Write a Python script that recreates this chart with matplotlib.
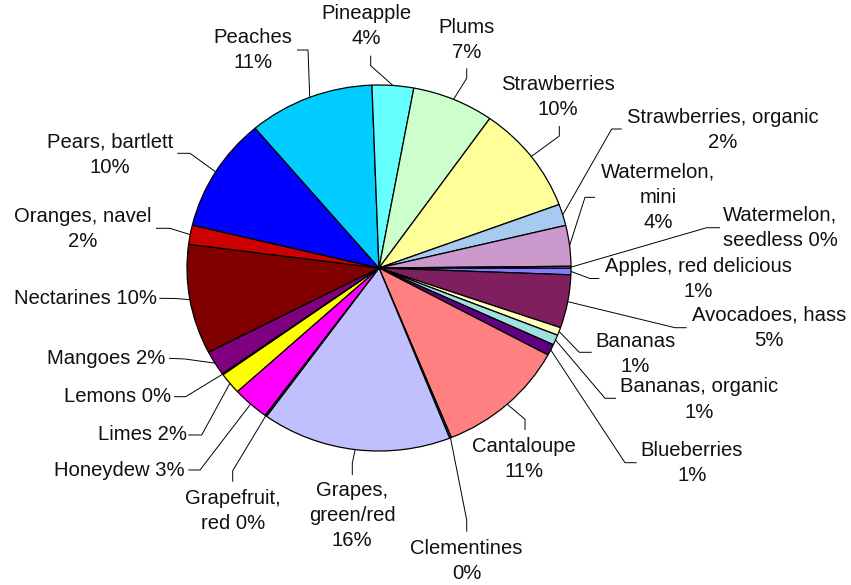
import matplotlib
matplotlib.use("Agg")
import matplotlib.pyplot as plt
import numpy as np

plt.rcParams['font.family'] = ['Liberation Sans', 'DejaVu Sans']

# ---- data (clockwise from 3 o'clock) ----
categories = [
    "Apples, red delicious", "Avocadoes, hass", "Bananas", "Bananas, organic",
    "Blueberries", "Cantaloupe", "Clementines", "Grapes,\ngreen/red",
    "Grapefruit,\nred", "Honeydew", "Limes", "Lemons", "Mangoes", "Nectarines",
    "Oranges, navel", "Pears, bartlett", "Peaches", "Pineapple", "Plums",
    "Strawberries", "Strawberries, organic", "Watermelon,\nmini",
    "Watermelon,\nseedless",
]
values = [0.6, 4.7, 0.7, 0.9, 1.0, 11.0, 0.15, 16.0, 0.15, 3.1, 1.9, 0.1, 2.2,
          9.7, 1.7, 10.1, 10.6, 3.5, 6.9, 9.6, 1.9, 3.6, 0.15]
pct_labels = [1, 5, 1, 1, 1, 11, 0, 16, 0, 3, 2, 0, 2, 10, 2, 10, 11, 4, 7, 10, 2, 4, 0]
colors = ["#8080FF", "#7F1F5F", "#FFFFC0", "#A0E0E0", "#600080", "#FF8080",
          "#0066CC", "#C0C0FF", "#000080", "#FF00FF", "#FFFF00", "#00FFFF",
          "#800080", "#800000", "#CC0000", "#0000FF", "#00CCFF", "#66FFFF",
          "#CCFFCC", "#FFFF99", "#A6CAF0", "#CC99CC", "#CC99FF"]

# ---- layout (pixels) ----
W, H = 851, 585
CX, CY, RX, RY = 379, 268, 192, 183
# separator between name and percentage
seps = ["\n", "\n", "\n", "\n", "\n", "\n", "\n", "\n", " ", " ", " ", " ", " ", " ",
        "\n", "\n", "\n", "\n", "\n", "\n", "\n", "\n", " "]
# text position, alignment, leader end, leader elbow
layout = [
    ((698, 279), "center", (599.3, 278.5), (590, 278.5)),
    ((769, 328), "center", (686.7, 327.7), (675, 327.7)),
    ((635.5, 354), "center", (591.7, 352.3), (579.3, 352.3)),
    ((699, 399.5), "center", (616, 398.3), (605, 398.3)),
    ((692, 463), "center", (636.7, 462.7), (625, 462.7)),
    ((524, 458.7), "center", (525, 430), (525, 419.3)),
    ((466.5, 561), "center", (466.7, 531.7), (466.7, 520)),
    ((352, 515.5), "center", (352.3, 475), (352.3, 463.3)),
    ((232.7, 511.3), "center", (232.7, 481.7), (232.7, 470.7)),
    ((185, 470), "right", (188.3, 470), (200, 470)),
    ((186.7, 435), "right", (188.3, 435), (201.7, 435)),
    ((170.7, 396.7), "right", (174, 396.7), (185.7, 396.7)),
    ((165.7, 358.3), "right", (169, 358.3), (185, 359)),
    ((156.7, 298.3), "right", (159.3, 298.3), (175, 298.5)),
    ((83, 229), "center", (156, 228.3), (170, 228.3)),
    ((110, 155), "center", (177.3, 153.3), (190, 153.3)),
    ((253, 50), "center", (297, 50), (308, 50)),
    ((366, 26), "center", (370.7, 55.7), (370.7, 65.7)),
    ((467, 40), "center", (466.7, 68.3), (466.7, 78.3)),
    ((558, 97), "center", (559.3, 126), (559.3, 136)),
    ((723, 130), "center", (621.7, 129), (611.7, 129)),
    ((658, 197.5), "center", (595, 197.3), (585, 197.3)),
    ((780, 228), "center", (720, 227.7), (706.7, 227.7)),
]


def P(px, py):
    return (px - CX) / RX, (CY - py) / RY


fig = plt.figure(figsize=(W / 100, H / 100), dpi=100)
ax = fig.add_axes([0, 0, 1, 1])
wedges, _ = ax.pie(values, colors=colors, startangle=0, counterclock=False,
                   radius=1, center=(0, 0),
                   wedgeprops=dict(edgecolor="black", linewidth=0.9))
ax.set_aspect("auto")
ax.set_xlim(-CX / RX, (W - CX) / RX)
ax.set_ylim(-(H - CY) / RY, CY / RY)
ax.axis("off")

for w, name, sep, pct, (tpos, ha, end, elbow) in zip(wedges, categories, seps, pct_labels, layout):
    mid = np.deg2rad((w.theta1 + w.theta2) / 2)
    arc = (np.cos(mid), np.sin(mid))
    e1 = P(*elbow)
    e0 = P(*end)
    ax.plot([arc[0], e1[0], e0[0]], [arc[1], e1[1], e0[1]], color="black",
            lw=0.7, solid_capstyle="butt", zorder=1)
    tx, ty = P(*tpos)
    ax.text(tx, ty, f"{name}{sep}{pct}%", ha=ha, va="center", multialignment="center",
            fontsize=14.6, color="#111111", linespacing=1.42)

fig.savefig("out.png", dpi=100)
